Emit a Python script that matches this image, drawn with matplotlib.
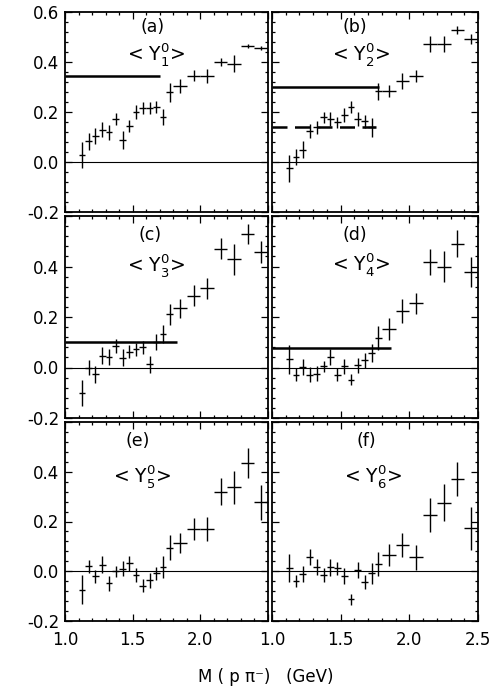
import matplotlib
matplotlib.use("Agg")
import matplotlib.pyplot as plt
from matplotlib.ticker import MultipleLocator, FixedLocator, FixedFormatter

plt.rcParams['font.family'] = ['DejaVu Sans']
plt.rcParams['mathtext.fontset'] = 'dejavusans'

# p pi- invariant mass bins (GeV): bin centres and half widths
mass = [1.125, 1.175, 1.225, 1.275, 1.325, 1.375, 1.425, 1.475, 1.525, 1.575,
        1.625, 1.675, 1.725, 1.775, 1.85, 1.95, 2.05, 2.15, 2.25, 2.35, 2.45]
mass_halfwidth = [0.025, 0.025, 0.025, 0.025, 0.025, 0.025, 0.025, 0.025, 0.025,
                  0.025, 0.025, 0.025, 0.025, 0.025, 0.05, 0.05, 0.05, 0.05,
                  0.05, 0.05, 0.05]

# <Y_L^0> moments and their errors
y1_vals = [0.029, 0.083, 0.103, 0.129, 0.120, 0.173, 0.089, 0.145, 0.200, 0.216, 0.216,
           0.220, 0.180, 0.279, 0.303, 0.345, 0.343, 0.400, 0.393, 0.465, 0.456]
y1_errs = [0.051, 0.033, 0.032, 0.030, 0.030, 0.025, 0.035, 0.025, 0.028, 0.023, 0.025,
           0.025, 0.032, 0.037, 0.028, 0.022, 0.028, 0.017, 0.033, 0.008, 0.008]

y2_vals = [-0.025, 0.021, 0.049, 0.125, 0.139, 0.179, 0.172, 0.159, 0.189, 0.219, 0.172,
           0.163, 0.139, 0.283, 0.285, 0.325, 0.345, 0.472, 0.472, 0.528, 0.492]
y2_errs = [0.055, 0.031, 0.034, 0.028, 0.027, 0.022, 0.028, 0.023, 0.029, 0.024, 0.029,
           0.027, 0.037, 0.033, 0.023, 0.033, 0.025, 0.033, 0.033, 0.017, 0.021]

y3_vals = [-0.101, 0.000, -0.027, 0.047, 0.043, 0.085, 0.039, 0.063, 0.072, 0.080, 0.012,
           0.102, 0.133, 0.211, 0.235, 0.285, 0.313, 0.471, 0.428, 0.528, 0.457]
y3_errs = [0.053, 0.028, 0.033, 0.035, 0.032, 0.028, 0.033, 0.027, 0.027, 0.025, 0.032,
           0.031, 0.037, 0.042, 0.037, 0.040, 0.043, 0.040, 0.060, 0.040, 0.044]

y4_vals = [0.032, -0.028, 0.001, -0.028, -0.024, 0.004, 0.041, -0.028, 0.005, -0.048, 0.009,
           0.028, 0.059, 0.116, 0.152, 0.225, 0.254, 0.418, 0.400, 0.491, 0.378]
y4_errs = [0.056, 0.027, 0.031, 0.031, 0.030, 0.023, 0.031, 0.027, 0.030, 0.023, 0.030,
           0.030, 0.036, 0.047, 0.043, 0.047, 0.043, 0.053, 0.063, 0.052, 0.060]

y5_vals = [-0.074, 0.020, -0.021, 0.027, -0.048, 0.000, 0.011, 0.033, -0.015, -0.058, -0.037,
           -0.008, 0.016, 0.094, 0.112, 0.170, 0.170, 0.320, 0.338, 0.434, 0.277]
y5_errs = [0.057, 0.027, 0.028, 0.034, 0.030, 0.023, 0.030, 0.030, 0.030, 0.025, 0.030,
           0.027, 0.045, 0.050, 0.040, 0.043, 0.047, 0.055, 0.067, 0.060, 0.070]

y6_vals = [0.013, -0.041, -0.011, 0.056, 0.016, -0.015, 0.016, 0.012, -0.020, -0.113, 0.005,
           -0.044, -0.008, 0.029, 0.065, 0.105, 0.056, 0.225, 0.276, 0.372, 0.172]
y6_errs = [0.057, 0.024, 0.033, 0.032, 0.033, 0.027, 0.035, 0.027, 0.033, 0.023, 0.033,
           0.029, 0.043, 0.049, 0.043, 0.047, 0.050, 0.068, 0.073, 0.068, 0.085]

panel_tags = ['(a)', '(b)', '(c)', '(d)', '(e)', '(f)']
moment_index = [1, 2, 3, 4, 5, 6]

# constant-level lines per panel: (level, upper mass end, dashed?)
level_lines = {
    0: [(0.343, 1.70, False)],
    1: [(0.301, 1.78, False), (0.141, 1.76, True)],
    2: [(0.102, 1.83, False)],
    3: [(0.078, 1.87, False)],
}

x_tick_vals = [1.0, 1.5, 2.0, 2.5]
y_tick_vals = [-0.2, 0.0, 0.2, 0.4, 0.6]

all_vals = [y1_vals, y2_vals, y3_vals, y4_vals, y5_vals, y6_vals]
all_errs = [y1_errs, y2_errs, y3_errs, y4_errs, y5_errs, y6_errs]

W, H = 495, 687
fig = plt.figure(figsize=(W / 100, H / 100), dpi=100)

col_left = [65, 272]
col_width = [203, 206]
row_top = [12, 216, 422]
row_height = [200, 202, 199]

tag_pos = [(0.43, 0.925), (0.40, 0.925), (0.42, 0.905), (0.40, 0.905), (0.36, 0.905), (0.46, 0.905)]
mom_pos = [(0.45, 0.785), (0.43, 0.785), (0.45, 0.755), (0.43, 0.76), (0.38, 0.725), (0.49, 0.725)]

for i in range(6):
    r, c = divmod(i, 2)
    left = col_left[c] / W
    bottom = 1 - (row_top[r] + row_height[r]) / H
    ax = fig.add_axes([left, bottom, col_width[c] / W, row_height[r] / H])
    ax.set_xlim(1.0, 2.5)
    ax.set_ylim(-0.2, 0.6)

    ax.axhline(0.0, color='black', lw=0.8, zorder=1)
    for level, xend, dashed in level_lines.get(i, []):
        line, = ax.plot([1.0, xend], [level, level], color='black', lw=1.8,
                        solid_capstyle='butt', zorder=2)
        if dashed:
            line.set_dashes((6, 3))

    ax.errorbar(mass, all_vals[i], yerr=all_errs[i], xerr=mass_halfwidth,
                fmt='none', ecolor='black', elinewidth=1.0, capsize=0, zorder=3)

    ax.text(tag_pos[i][0], tag_pos[i][1], panel_tags[i], transform=ax.transAxes,
            ha='center', va='center', fontsize=12.5)
    ax.text(mom_pos[i][0], mom_pos[i][1],
            '< Y$_{%d}^{0}$>' % moment_index[i], transform=ax.transAxes,
            ha='center', va='center', fontsize=13.5)

    # ticks on all four sides, pointing inward
    ax.xaxis.set_major_locator(FixedLocator(x_tick_vals))
    ax.xaxis.set_minor_locator(MultipleLocator(0.1))
    ax.yaxis.set_major_locator(FixedLocator(y_tick_vals))
    ax.yaxis.set_minor_locator(MultipleLocator(0.04))
    ax.tick_params(which='both', direction='in', top=True, right=True, width=0.9)
    ax.tick_params(which='major', length=5)
    ax.tick_params(which='minor', length=2)
    ax.tick_params(axis='both', labelsize=12, pad=4)

    if r == 2:
        xl = ['1.0', '1.5', '2.0', ''] if c == 0 else ['1.0', '1.5', '2.0', '2.5']
        ax.xaxis.set_major_formatter(FixedFormatter(xl))
        ax.tick_params(axis='x', pad=7)
    else:
        ax.set_xticklabels([])

    if c == 0:
        yl = ['-0.2', '0.0', '0.2', '0.4', '0.6' if r == 0 else '']
        ax.yaxis.set_major_formatter(FixedFormatter(yl))
    else:
        ax.set_yticklabels([])

    for sp in ax.spines.values():
        sp.set_linewidth(1.3)

fig.text(266 / W, 1 - 677 / H, 'M ( p π\u207b)   (GeV)', ha='center', va='center',
         fontsize=12)

fig.savefig('out.png', dpi=100)
